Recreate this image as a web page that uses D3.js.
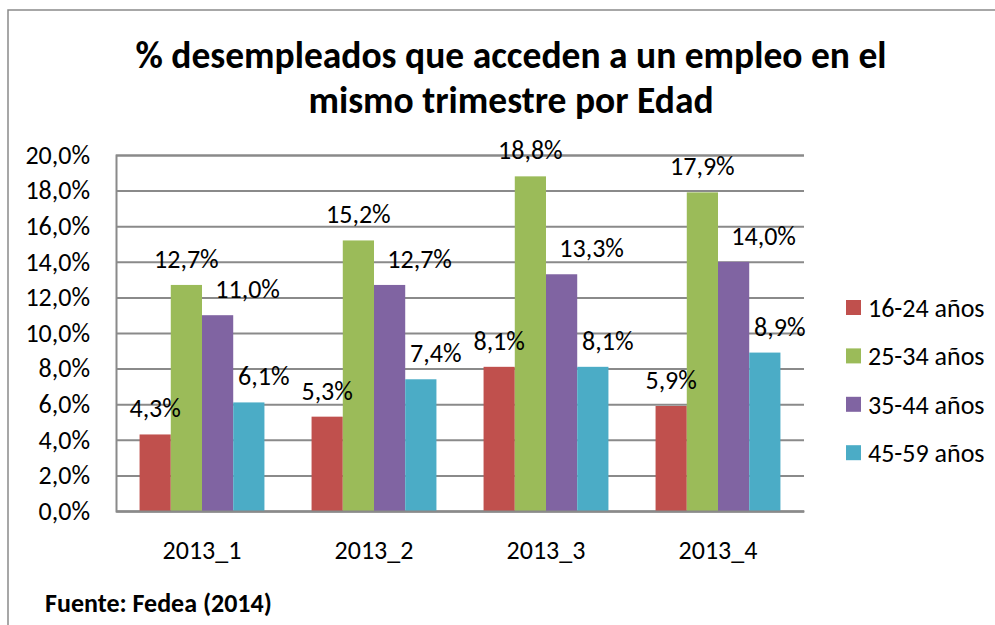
<!DOCTYPE html>
<html>
<head>
<meta charset="utf-8">
<script src="https://cdn.jsdelivr.net/npm/d3@7"></script>
<style>
  body { margin: 0; background: #fff; }
  svg { display: block; }
  text { font-family: Carlito, Calibri, Lato, sans-serif; }
</style>
</head>
<body>
<svg id="canvas" width="995" height="625"></svg>
<script>
// data
var categories = ["2013_1", "2013_2", "2013_3", "2013_4"];
var series = ["16-24 años", "25-34 años", "35-44 años", "45-59 años"];
var v1624 = [4.3, 5.3, 8.1, 5.9];
var v2534 = [12.7, 15.2, 18.8, 17.9];
var v3544 = [11.0, 12.7, 13.3, 14.0];
var v4559 = [6.1, 7.4, 8.1, 8.9];
var yTicks = [0, 2, 4, 6, 8, 10, 12, 14, 16, 18, 20];
var title = ["% desempleados que acceden a un empleo en el", "mismo trimestre por Edad"];
var source = "Fuente: Fedea (2014)";

var colors = ["#C0504D", "#9BBB59", "#8064A2", "#4BACC6"];
var labelDx = [0, 0, 30, 15];   // excel pushed some labels sideways
var GRID = "#8a8a8a";
var FS = "26px";

var values = [v1624, v2534, v3544, v4559];
var fmt = function(v){ return d3.format(".1f")(v).replace(".", ",") + "%"; };

var svg = d3.select("#canvas");

// outer chart border
svg.append("path")
    .attr("d", "M8,625 L8,10 L995,10")
    .attr("fill", "none")
    .attr("stroke", GRID)
    .attr("stroke-width", 1.5);

// title
svg.append("text")
    .attr("x", 511).attr("text-anchor", "middle")
    .attr("font-weight", "bold").attr("font-size", "37.5px")
    .selectAll("tspan").data(title).enter().append("tspan")
    .attr("x", 511)
    .attr("y", function(d, i){ return 68 + i * 45; })
    .text(function(d){ return d; });

var x0 = d3.scaleBand().domain(categories).range([116, 804]);
var x1 = d3.scaleBand().domain(series)
    .range([x0.bandwidth() * 0.137, x0.bandwidth() * 0.863]);
var y = d3.scaleLinear().domain([0, 20]).range([511, 155]);

// gridlines + y labels
var yAxis = d3.axisLeft(y).tickValues(yTicks)
    .tickSize(-(804 - 116)).tickPadding(26)
    .tickFormat(fmt);
var gy = svg.append("g").attr("transform", "translate(116,0)").call(yAxis)
    .attr("font-family", null).attr("font-size", FS);
gy.select(".domain").attr("stroke", GRID).attr("stroke-width", 2);
gy.selectAll(".tick line").attr("stroke", GRID).attr("stroke-width", 2);
gy.selectAll(".tick text").attr("fill", "#000");

// bars
var groups = svg.selectAll("g.grp")
    .data(categories).enter().append("g")
    .attr("class", "grp")
    .attr("transform", function(d){ return "translate(" + x0(d) + ",0)"; });

groups.selectAll("rect")
    .data(function(d, ci){ return series.map(function(s, si){ return {s: s, si: si, v: values[si][ci]}; }); })
    .enter().append("rect")
    .attr("x", function(d){ return x1(d.s); })
    .attr("width", x1.bandwidth())
    .attr("y", function(d){ return y(d.v); })
    .attr("height", function(d){ return y(0) - y(d.v); })
    .attr("fill", function(d){ return colors[d.si]; });

groups.selectAll("text.lbl")
    .data(function(d, ci){ return series.map(function(s, si){ return {s: s, si: si, v: values[si][ci]}; }); })
    .enter().append("text")
    .attr("class", "lbl")
    .attr("x", function(d){ return x1(d.s) + x1.bandwidth() / 2 + labelDx[d.si]; })
    .attr("y", function(d){ return y(d.v) - 17; })
    .attr("text-anchor", "middle")
    .attr("font-size", FS)
    .text(function(d){ return fmt(d.v); });

// x axis
var xAxis = d3.axisBottom(x0).tickSize(0).tickPadding(30);
var gx = svg.append("g").attr("transform", "translate(0,511)").call(xAxis)
    .attr("font-family", null).attr("font-size", FS);
gx.select(".domain").attr("stroke", GRID).attr("stroke-width", 2);
gx.selectAll("text").attr("fill", "#000");

// legend
var leg = svg.selectAll("g.leg").data(series).enter().append("g")
    .attr("class", "leg")
    .attr("transform", function(d, i){ return "translate(846," + (300 + i * 48.4) + ")"; });
leg.append("rect").attr("width", 15).attr("height", 15)
    .attr("fill", function(d, i){ return colors[i]; });
leg.append("text").attr("x", 22).attr("y", 17)
    .attr("font-size", FS)
    .text(function(d){ return d; });

// source
svg.append("text")
    .attr("x", 45).attr("y", 612)
    .attr("font-weight", "bold").attr("font-size", "26px")
    .text(source);
</script>
</body>
</html>
